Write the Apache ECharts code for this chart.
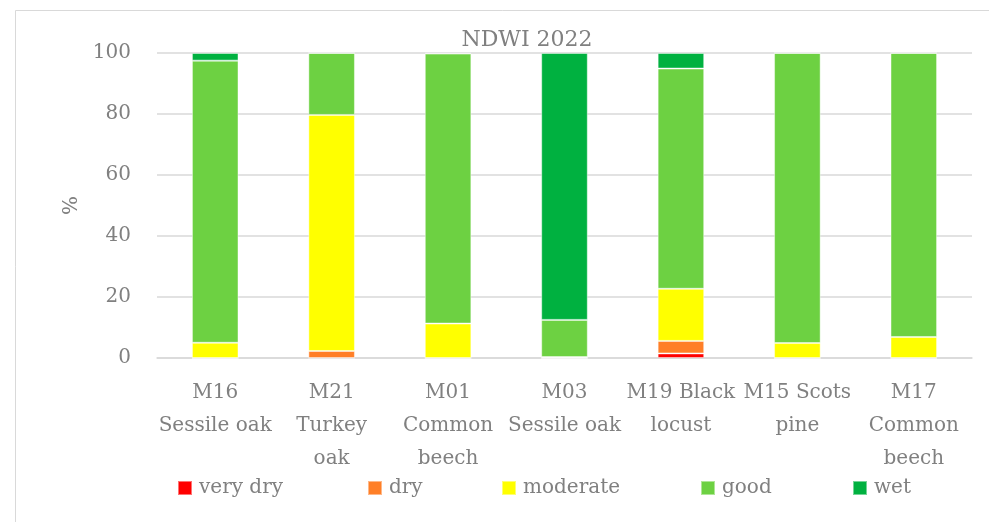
<!DOCTYPE html>
<html>
<head>
<meta charset="utf-8">
<script src="https://cdn.jsdelivr.net/npm/echarts@6/dist/echarts.min.js"></script>
<style>
  html, body { margin: 0; padding: 0; background: #fff; }
  #chart { width: 989px; height: 522px; }
</style>
</head>
<body>
<div id="chart"></div>
<script>
// Plot categories (stand code + tree species)
const categories = [
  'M16\nSessile oak',
  'M21\nTurkey\noak',
  'M01\nCommon\nbeech',
  'M03\nSessile oak',
  'M19 Black\nlocust',
  'M15 Scots\npine',
  'M17\nCommon\nbeech'
];

// Share of area (%) in each NDWI class
const veryDry  = [0,    0,    0,    0,    1.5,  0,    0];
const dry      = [0,    2.3,  0,    0,    4.1,  0,    0];
const moderate = [5.0,  77.4, 11.3, 0.3,  17.1, 4.9,  6.9];
const good     = [92.5, 20.3, 88.5, 12.2, 72.2, 95.1, 93.1];
const wet      = [2.5,  0,    0.2,  87.5, 5.1,  0,    0];

const yTicks = [0, 20, 40, 60, 80, 100];

const seriesDefs = [
  { name: 'very dry', data: veryDry,  color: '#FF0000' },
  { name: 'dry',      data: dry,      color: '#FF7F27' },
  { name: 'moderate', data: moderate, color: '#FFFF00' },
  { name: 'good',     data: good,     color: '#6DD142' },
  { name: 'wet',      data: wet,      color: '#00B140' }
];

// left edge of each legend entry along the bottom row
const legendLeft = [177, 367, 501, 700, 852];

const FONT = '"DejaVu Serif", "Liberation Serif", serif';
const GRAY = '#808080';

const chart = echarts.init(document.getElementById('chart'), null, { renderer: 'canvas' });

chart.setOption({
  backgroundColor: '#ffffff',
  animation: false,
  graphic: [{
    type: 'rect',
    shape: { x: 15.5, y: 10.5, width: 1000, height: 600 },
    style: { fill: 'none', stroke: '#d9d9d9', lineWidth: 1 },
    silent: true,
    z: -1
  }],
  title: {
    text: 'NDWI 2022',
    left: 522,
    top: 24,
    textAlign: 'center',
    textStyle: { fontFamily: FONT, fontSize: 22, fontWeight: 'normal', color: GRAY }
  },
  legend: seriesDefs.map((s, i) => ({
    left: legendLeft[i],
    top: 478,
    padding: 0,
    itemWidth: 14,
    itemHeight: 14,
    icon: 'rect',
    textStyle: { fontFamily: FONT, fontSize: 20, color: GRAY, padding: [0, 0, 0, 2] },
    data: [s.name]
  })),
  grid: { left: 157, right: 17, top: 53, bottom: 164, containLabel: false },
  xAxis: {
    type: 'category',
    data: categories,
    axisLine: { lineStyle: { color: '#d9d9d9', width: 1.5 } },
    axisTick: { show: false },
    axisLabel: {
      fontFamily: FONT, fontSize: 20, color: GRAY,
      lineHeight: 33, margin: 18, interval: 0
    }
  },
  yAxis: {
    type: 'value',
    min: 0,
    max: 100,
    interval: 20,
    name: '%',
    nameLocation: 'middle',
    nameGap: 75,
    nameTextStyle: { fontFamily: FONT, fontSize: 20, color: GRAY },
    axisLine: { show: false },
    axisTick: { show: false },
    splitLine: { lineStyle: { color: '#d9d9d9', width: 1.5 } },
    axisLabel: {
      fontFamily: FONT, fontSize: 20, color: GRAY, margin: 26,
      formatter: v => (yTicks.indexOf(v) >= 0 ? String(v) : '')
    }
  },
  series: seriesDefs.map(s => ({
    name: s.name,
    type: 'bar',
    stack: 'total',
    barWidth: '40%',
    data: s.data,
    itemStyle: { color: s.color, borderColor: 'rgba(255,255,255,0.45)', borderWidth: 1 }
  }))
});
</script>
</body>
</html>
